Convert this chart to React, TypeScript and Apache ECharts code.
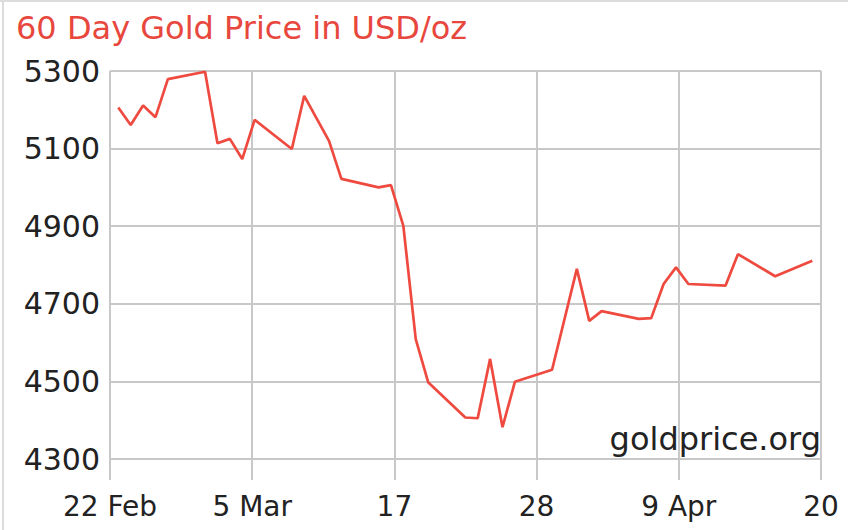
import React, { useEffect, useRef } from "react";
import * as echarts from "echarts";

// Trading-day offsets counted from 22 Feb (day 0)
const dayOffsets = [1, 2, 3, 4, 5, 8, 9, 10, 11, 12, 15, 16, 18, 19, 22, 23, 24, 25, 26, 29, 30, 31, 32, 33, 36, 38, 39, 40, 43, 44, 45, 46, 47, 50, 51, 54, 57];
// Gold price, USD/oz
const prices = [5206, 5161, 5211, 5181, 5279, 5298, 5114, 5125, 5073, 5174, 5099, 5236, 5120, 5022, 5000, 5006, 4901, 4609, 4498, 4407, 4405, 4558, 4382, 4499, 4530, 4790, 4656, 4681, 4661, 4663, 4751, 4794, 4751, 4747, 4828, 4771, 4811];
const xTickLabels = ["22 Feb", "5 Mar", "17", "28", "9 Apr", "20"];
const axisStartDay = 0.33;
const daysPerTick = 11.474;
const yMin = 4300;
const yMax = 5300;
const yStep = 200;

const TITLE = "60 Day Gold Price in USD/oz";
const WATERMARK = "goldprice.org";
const FONT = "'DejaVu Sans', Verdana, sans-serif";

export default function App() {
  const ref = useRef<HTMLDivElement>(null);
  useEffect(() => {
    if (!ref.current) return;
    const chart = echarts.init(ref.current, undefined, { renderer: "svg" });
    const data = dayOffsets.map((d, i) => [(d - axisStartDay) / daysPerTick, prices[i]]);
    const grid = "#c8c8c8";
    chart.setOption({
      animation: false,
      backgroundColor: "#ffffff",
      textStyle: { fontFamily: FONT },
      title: {
        text: TITLE,
        left: 11,
        top: 7,
        textStyle: { color: "#e8473d", fontSize: 32, fontWeight: "normal", fontFamily: FONT },
      },
      grid: { left: 110, right: 27, top: 71, bottom: 71 },
      xAxis: {
        type: "value",
        min: 0,
        max: xTickLabels.length - 1,
        interval: 1,
        axisLine: { show: false },
        axisTick: { show: true, length: 21, lineStyle: { color: grid, width: 2 } },
        splitLine: { show: true, lineStyle: { color: grid, width: 2 } },
        axisLabel: {
          color: "#222",
          fontSize: 28,
          fontFamily: FONT,
          margin: 33,
          formatter: (v: number) => xTickLabels[Math.round(v)] ?? "",
        },
      },
      yAxis: {
        type: "value",
        min: yMin,
        max: yMax,
        interval: yStep,
        axisLine: { show: false },
        axisTick: { show: false },
        splitLine: { show: true, lineStyle: { color: grid, width: 2 } },
        axisLabel: {
          color: "#222",
          fontSize: 30,
          fontFamily: FONT,
          margin: 10,
          formatter: (v: number) => String(v),
        },
      },
      graphic: [
        { type: "line", shape: { x1: 0, y1: 1, x2: 848, y2: 1 }, style: { stroke: "#dcdcdc", lineWidth: 2 }, silent: true },
        { type: "line", shape: { x1: 3, y1: 0, x2: 3, y2: 530 }, style: { stroke: "#dcdcdc", lineWidth: 2 }, silent: true },
        {
          type: "text",
          right: 27,
          top: 423,
          z: 10,
          style: { text: WATERMARK, fill: "#222", font: `32px ${FONT}` },
        },
      ],
      series: [
        {
          type: "line",
          data,
          symbol: "none",
          lineStyle: { color: "#ee4a3f", width: 2.7 },
          z: 5,
        },
      ],
    });
    return () => chart.dispose();
  }, []);
  return <div ref={ref} style={{ position: "fixed", left: 0, top: 0, width: 848, height: 530 }} />;
}
